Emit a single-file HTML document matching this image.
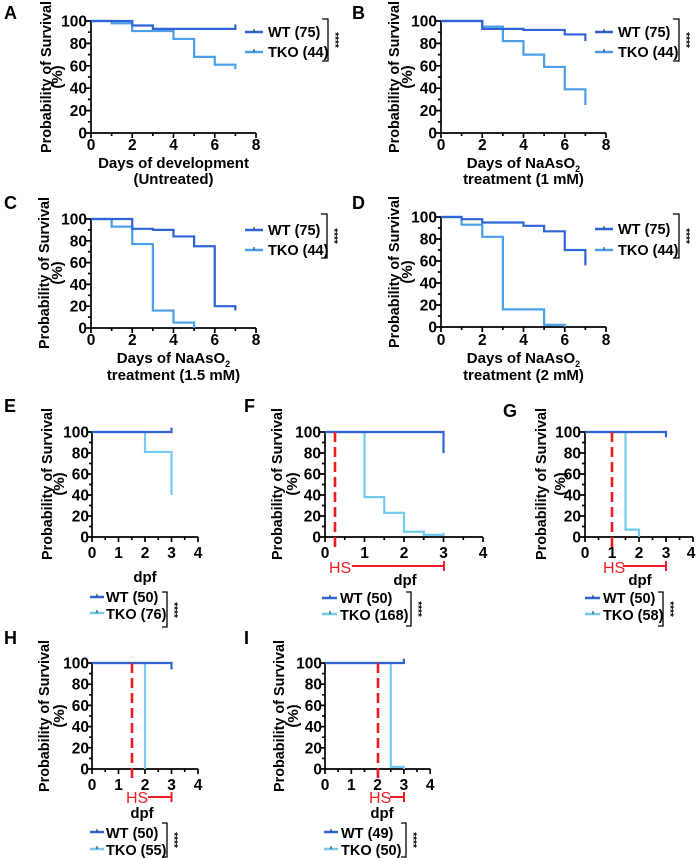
<!DOCTYPE html>
<html><head><meta charset="utf-8"><style>
html,body{margin:0;padding:0;background:#fff;}
svg{display:block;font-family:"Liberation Sans",Arial,sans-serif;font-weight:bold;}
.ax{fill:none;stroke:#000;stroke-width:1.7;}
.wt{fill:none;stroke:#2f64d6;stroke-width:2.2;}
.tk{fill:none;stroke:#4a9fe8;stroke-width:2.2;}
.tc{fill:none;stroke:#74c9ee;stroke-width:2.2;}
.rd{fill:none;stroke:#ee1c24;stroke-width:2.6;stroke-dasharray:10,5;}
.hs{fill:none;stroke:#ee1c24;stroke-width:2;}
.ty{font-size:15.5px;text-anchor:end;}
.tx{font-size:15.5px;text-anchor:middle;}
.tt{font-size:15px;text-anchor:middle;}
.pl{font-size:18px;}
.lg{font-size:14.5px;}
.st{font-size:10px;}
.br{fill:none;stroke:#000;stroke-width:1.3;}
</style></head><body>
<svg width="696" height="858" viewBox="0 0 696 858">
<text class="pl" x="4" y="19">A</text>
<text class="pl" x="352" y="19">B</text>
<text class="pl" x="4" y="209">C</text>
<text class="pl" x="352" y="209">D</text>
<text class="pl" x="4" y="412">E</text>
<text class="pl" x="244" y="412">F</text>
<text class="pl" x="503" y="417">G</text>
<text class="pl" x="4" y="644">H</text>
<text class="pl" x="244" y="644">I</text>

<!-- A -->
<g transform="translate(91,133) scale(20.625,-1.12)">
<path class="ax" vector-effect="non-scaling-stroke" d="M0,100V0H8 M0,0v-4.5 M2,0v-4.5 M4,0v-4.5 M6,0v-4.5 M8,0v-4.5 M1,0v-2.7 M3,0v-2.7 M5,0v-2.7 M7,0v-2.7 M0,0h-.24 M0,20h-.24 M0,40h-.24 M0,60h-.24 M0,80h-.24 M0,100h-.24 M0,10h-.15 M0,30h-.15 M0,50h-.15 M0,70h-.15 M0,90h-.15"/>
<path class="tk" vector-effect="non-scaling-stroke" d="M0,100H1V98H2V91H4V84H5V68H6V61H7V57"/>
<path class="wt" vector-effect="non-scaling-stroke" d="M0,100H2V96H3V93H7V97"/>
</g>
<g class="ty"><text x="87" y="138.5">0</text><text x="87" y="116">20</text><text x="87" y="93.7">40</text><text x="87" y="71.3">60</text><text x="87" y="49">80</text><text x="87" y="26.5">100</text></g>
<g class="tx"><text x="91" y="150">0</text><text x="132.25" y="150">2</text><text x="173.5" y="150">4</text><text x="214.75" y="150">6</text><text x="256" y="150">8</text></g>
<text class="tt" x="173.5" y="168">Days of development</text>
<text class="tt" x="173.5" y="184">(Untreated)</text>
<g transform="translate(0,77) rotate(-90)"><text class="tt" x="0" y="51" textLength="152" lengthAdjust="spacingAndGlyphs">Probability of Survival</text><text class="tt" x="0" y="62">(%)</text></g>
<path d="M245,32H263" stroke="#2f64d6" stroke-width="2.5"/>
<path d="M245,52H263" stroke="#4a9fe8" stroke-width="2.5"/>
<path d="M254,29V32M254,49V52" stroke="#222" stroke-width="1"/>
<text class="lg" x="268" y="37">WT (75)</text>
<text class="lg" x="268" y="57">TKO (44)</text>
<path class="br" d="M322,19H328V61H322"/>
<text class="st" transform="translate(332,40) rotate(90)" text-anchor="middle">****</text>

<!-- B -->
<g transform="translate(441,133) scale(20.625,-1.12)">
<path class="ax" vector-effect="non-scaling-stroke" d="M0,100V0H8 M0,0v-4.5 M2,0v-4.5 M4,0v-4.5 M6,0v-4.5 M8,0v-4.5 M1,0v-2.7 M3,0v-2.7 M5,0v-2.7 M7,0v-2.7 M0,0h-.24 M0,20h-.24 M0,40h-.24 M0,60h-.24 M0,80h-.24 M0,100h-.24 M0,10h-.15 M0,30h-.15 M0,50h-.15 M0,70h-.15 M0,90h-.15"/>
<path class="tk" vector-effect="non-scaling-stroke" d="M0,100H2V95H3V82H4V70H5V59H6V39H7V25"/>
<path class="wt" vector-effect="non-scaling-stroke" d="M0,100H2V93H4V92H6V88H7V82"/>
</g>
<g class="ty"><text x="437" y="138.5">0</text><text x="437" y="116">20</text><text x="437" y="93.7">40</text><text x="437" y="71.3">60</text><text x="437" y="49">80</text><text x="437" y="26.5">100</text></g>
<g class="tx"><text x="441" y="150">0</text><text x="482.25" y="150">2</text><text x="523.5" y="150">4</text><text x="564.75" y="150">6</text><text x="606" y="150">8</text></g>
<text class="tt" x="523.5" y="168">Days of NaAsO<tspan font-size="9" dy="4">2</tspan></text>
<text class="tt" x="523.5" y="184">treatment (1 mM)</text>
<g transform="translate(0,77) rotate(-90)"><text class="tt" x="0" y="399" textLength="152" lengthAdjust="spacingAndGlyphs">Probability of Survival</text><text class="tt" x="0" y="412">(%)</text></g>
<path d="M595,32H613" stroke="#2f64d6" stroke-width="2.5"/>
<path d="M595,52H613" stroke="#4a9fe8" stroke-width="2.5"/>
<path d="M604,29V32M604,49V52" stroke="#222" stroke-width="1"/>
<text class="lg" x="618" y="37">WT (75)</text>
<text class="lg" x="618" y="57">TKO (44)</text>
<path class="br" d="M673,19H679V61H673"/>
<text class="st" transform="translate(683,40) rotate(90)" text-anchor="middle">****</text>

<!-- C -->
<g transform="translate(91,328) scale(20.625,-1.09)">
<path class="ax" vector-effect="non-scaling-stroke" d="M0,100V0H8 M0,0v-4.6 M2,0v-4.6 M4,0v-4.6 M6,0v-4.6 M8,0v-4.6 M1,0v-2.8 M3,0v-2.8 M5,0v-2.8 M7,0v-2.8 M0,0h-.24 M0,20h-.24 M0,40h-.24 M0,60h-.24 M0,80h-.24 M0,100h-.24 M0,10h-.15 M0,30h-.15 M0,50h-.15 M0,70h-.15 M0,90h-.15"/>
<path class="tk" vector-effect="non-scaling-stroke" d="M0,100H1V93H2V77H3V16H4V5H5V0"/>
<path class="wt" vector-effect="non-scaling-stroke" d="M0,100H2V91H3V90H4V84H5V75H6V20H7V16"/>
</g>
<g class="ty"><text x="87" y="333.5">0</text><text x="87" y="311.7">20</text><text x="87" y="289.9">40</text><text x="87" y="268.1">60</text><text x="87" y="246.3">80</text><text x="87" y="224.5">100</text></g>
<g class="tx"><text x="91" y="345">0</text><text x="132.25" y="345">2</text><text x="173.5" y="345">4</text><text x="214.75" y="345">6</text><text x="256" y="345">8</text></g>
<text class="tt" x="173.5" y="363">Days of NaAsO<tspan font-size="9" dy="4">2</tspan></text>
<text class="tt" x="173.5" y="380">treatment (1.5 mM)</text>
<g transform="translate(0,273) rotate(-90)"><text class="tt" x="0" y="49" textLength="152" lengthAdjust="spacingAndGlyphs">Probability of Survival</text><text class="tt" x="0" y="62">(%)</text></g>
<path d="M245,230H263" stroke="#2f64d6" stroke-width="2.5"/>
<path d="M245,250H263" stroke="#4a9fe8" stroke-width="2.5"/>
<path d="M254,227V230M254,247V250" stroke="#222" stroke-width="1"/>
<text class="lg" x="268" y="235">WT (75)</text>
<text class="lg" x="268" y="255">TKO (44)</text>
<path class="br" d="M321,214H327V258H321"/>
<text class="st" transform="translate(331,236) rotate(90)" text-anchor="middle">****</text>

<!-- D -->
<g transform="translate(441,327) scale(20.625,-1.1)">
<path class="ax" vector-effect="non-scaling-stroke" d="M0,100V0H8 M0,0v-4.5 M2,0v-4.5 M4,0v-4.5 M6,0v-4.5 M8,0v-4.5 M1,0v-2.7 M3,0v-2.7 M5,0v-2.7 M7,0v-2.7 M0,0h-.24 M0,20h-.24 M0,40h-.24 M0,60h-.24 M0,80h-.24 M0,100h-.24 M0,10h-.15 M0,30h-.15 M0,50h-.15 M0,70h-.15 M0,90h-.15"/>
<path class="tk" vector-effect="non-scaling-stroke" d="M0,100H1V93H2V82H3V16H5V2H6V0"/>
<path class="wt" vector-effect="non-scaling-stroke" d="M0,100H1V98H2V95H4V92H5V87H6V70H7V56"/>
</g>
<g class="ty"><text x="437" y="332.5">0</text><text x="437" y="310.5">20</text><text x="437" y="288.5">40</text><text x="437" y="266.5">60</text><text x="437" y="244.5">80</text><text x="437" y="222.5">100</text></g>
<g class="tx"><text x="441" y="345">0</text><text x="482.25" y="345">2</text><text x="523.5" y="345">4</text><text x="564.75" y="345">6</text><text x="606" y="345">8</text></g>
<text class="tt" x="523.5" y="363">Days of NaAsO<tspan font-size="9" dy="4">2</tspan></text>
<text class="tt" x="523.5" y="380">treatment (2 mM)</text>
<g transform="translate(0,272) rotate(-90)"><text class="tt" x="0" y="399" textLength="152" lengthAdjust="spacingAndGlyphs">Probability of Survival</text><text class="tt" x="0" y="412">(%)</text></g>
<path d="M595,229H613" stroke="#2f64d6" stroke-width="2.5"/>
<path d="M595,250H613" stroke="#4a9fe8" stroke-width="2.5"/>
<path d="M604,226V229M604,247V250" stroke="#222" stroke-width="1"/>
<text class="lg" x="618" y="234">WT (75)</text>
<text class="lg" x="618" y="255">TKO (44)</text>
<path class="br" d="M673,214H679V258H673"/>
<text class="st" transform="translate(683,236) rotate(90)" text-anchor="middle">****</text>

<!-- E -->
<g transform="translate(92,537) scale(26.5,-1.05)">
<path class="ax" vector-effect="non-scaling-stroke" d="M0,100V0H4 M0,0v-4.8 M1,0v-4.8 M2,0v-4.8 M3,0v-4.8 M4,0v-4.8 M.5,0v-2.9 M1.5,0v-2.9 M2.5,0v-2.9 M3.5,0v-2.9 M0,0h-.19 M0,20h-.19 M0,40h-.19 M0,60h-.19 M0,80h-.19 M0,100h-.19 M0,10h-.11 M0,30h-.11 M0,50h-.11 M0,70h-.11 M0,90h-.11"/>
<path class="tc" vector-effect="non-scaling-stroke" d="M0,100H2V81H3V40"/>
<path class="wt" vector-effect="non-scaling-stroke" d="M0,100H3V104"/>
</g>
<g class="ty"><text x="89" y="542.5">0</text><text x="89" y="521.5">20</text><text x="89" y="500.5">40</text><text x="89" y="479.5">60</text><text x="89" y="458.5">80</text><text x="89" y="437.5">100</text></g>
<g class="tx"><text x="92" y="558">0</text><text x="118.5" y="558">1</text><text x="145" y="558">2</text><text x="171.5" y="558">3</text><text x="198" y="558">4</text></g>
<text class="tt" x="145" y="582">dpf</text>
<g transform="translate(0,484) rotate(-90)"><text class="tt" x="0" y="52" textLength="152" lengthAdjust="spacingAndGlyphs">Probability of Survival</text><text class="tt" x="0" y="64">(%)</text></g>
<path d="M90,597H104" stroke="#2f64d6" stroke-width="2.5"/>
<path d="M90,613H104" stroke="#74c9ee" stroke-width="2.5"/>
<path d="M97,594V597M97,610V613" stroke="#222" stroke-width="1"/>
<text class="lg" x="106" y="602">WT (50)</text>
<text class="lg" x="106" y="619">TKO (76)</text>
<path class="br" d="M162,592H167V627H162"/>
<text class="st" transform="translate(171,610) rotate(90)" text-anchor="middle">****</text>

<!-- F -->
<g transform="translate(325,537) scale(39.5,-1.05)">
<path class="ax" vector-effect="non-scaling-stroke" d="M0,100V0H4 M0,0v-4.8 M1,0v-4.8 M2,0v-4.8 M3,0v-4.8 M4,0v-4.8 M.5,0v-2.9 M1.5,0v-2.9 M2.5,0v-2.9 M3.5,0v-2.9 M0,0h-.127 M0,20h-.127 M0,40h-.127 M0,60h-.127 M0,80h-.127 M0,100h-.127 M0,10h-.076 M0,30h-.076 M0,50h-.076 M0,70h-.076 M0,90h-.076"/>
<path class="tc" vector-effect="non-scaling-stroke" d="M0,100H1V38H1.5V23H2V5H2.5V2H3V4"/>
<path class="wt" vector-effect="non-scaling-stroke" d="M0,100H3V80"/>
</g>
<path class="rd" d="M335,432V548"/>
<g class="ty"><text x="321" y="542.5">0</text><text x="321" y="521.5">20</text><text x="321" y="500.5">40</text><text x="321" y="479.5">60</text><text x="321" y="458.5">80</text><text x="321" y="437.5">100</text></g>
<g class="tx"><text x="325" y="558">0</text><text x="364.5" y="558">1</text><text x="404" y="558">2</text><text x="443.5" y="558">3</text><text x="483" y="558">4</text></g>
<text x="329" y="573" font-size="16" font-weight="normal" fill="#ee1c24">HS</text>
<path class="hs" d="M352,566H444M444,561V571"/>
<text class="tt" x="405" y="585">dpf</text>
<g transform="translate(0,484) rotate(-90)"><text class="tt" x="0" y="282" textLength="152" lengthAdjust="spacingAndGlyphs">Probability of Survival</text><text class="tt" x="0" y="297">(%)</text></g>
<path d="M322,598H337" stroke="#2f64d6" stroke-width="2.5"/>
<path d="M322,614H337" stroke="#74c9ee" stroke-width="2.5"/>
<path d="M330,595V598M330,611V614" stroke="#222" stroke-width="1"/>
<text class="lg" x="340" y="603">WT (50)</text>
<text class="lg" x="340" y="620">TKO (168)</text>
<path class="br" d="M406,592H411V626H406"/>
<text class="st" transform="translate(415,609) rotate(90)" text-anchor="middle">****</text>

<!-- G -->
<g transform="translate(585,537) scale(27,-1.05)">
<path class="ax" vector-effect="non-scaling-stroke" d="M0,100V0H4 M0,0v-4.8 M1,0v-4.8 M2,0v-4.8 M3,0v-4.8 M4,0v-4.8 M.5,0v-2.9 M1.5,0v-2.9 M2.5,0v-2.9 M3.5,0v-2.9 M0,0h-.185 M0,20h-.185 M0,40h-.185 M0,60h-.185 M0,80h-.185 M0,100h-.185 M0,10h-.11 M0,30h-.11 M0,50h-.11 M0,70h-.11 M0,90h-.11"/>
<path class="tc" vector-effect="non-scaling-stroke" d="M0,100H1.5V7H2V0"/>
<path class="wt" vector-effect="non-scaling-stroke" d="M0,100H3V95"/>
</g>
<path class="rd" d="M612,432V548"/>
<g class="ty"><text x="581" y="542.5">0</text><text x="581" y="521.5">20</text><text x="581" y="500.5">40</text><text x="581" y="479.5">60</text><text x="581" y="458.5">80</text><text x="581" y="437.5">100</text></g>
<g class="tx"><text x="585" y="558">0</text><text x="612" y="558">1</text><text x="639" y="558">2</text><text x="666" y="558">3</text><text x="691" y="558">4</text></g>
<text x="603" y="573" font-size="16" font-weight="normal" fill="#ee1c24">HS</text>
<path class="hs" d="M623,566H666M666,561V571"/>
<text class="tt" x="640" y="585">dpf</text>
<g transform="translate(0,484) rotate(-90)"><text class="tt" x="0" y="546" textLength="152" lengthAdjust="spacingAndGlyphs">Probability of Survival</text><text class="tt" x="0" y="565">(%)</text></g>
<path d="M585,598H600" stroke="#2f64d6" stroke-width="2.5"/>
<path d="M585,614H600" stroke="#74c9ee" stroke-width="2.5"/>
<path d="M593,595V598M593,611V614" stroke="#222" stroke-width="1"/>
<text class="lg" x="603" y="603">WT (50)</text>
<text class="lg" x="603" y="620">TKO (58)</text>
<path class="br" d="M658,592H663V626H658"/>
<text class="st" transform="translate(667,609) rotate(90)" text-anchor="middle">****</text>

<!-- H -->
<g transform="translate(92,769) scale(26.5,-1.06)">
<path class="ax" vector-effect="non-scaling-stroke" d="M0,100V0H4 M0,0v-4.7 M1,0v-4.7 M2,0v-4.7 M3,0v-4.7 M4,0v-4.7 M.5,0v-2.8 M1.5,0v-2.8 M2.5,0v-2.8 M3.5,0v-2.8 M0,0h-.19 M0,20h-.19 M0,40h-.19 M0,60h-.19 M0,80h-.19 M0,100h-.19 M0,10h-.11 M0,30h-.11 M0,50h-.11 M0,70h-.11 M0,90h-.11"/>
<path class="tc" vector-effect="non-scaling-stroke" d="M0,100H2V0"/>
<path class="wt" vector-effect="non-scaling-stroke" d="M0,100H3V94"/>
</g>
<path class="rd" d="M132,663V780"/>
<g class="ty"><text x="89" y="774.5">0</text><text x="89" y="753.3">20</text><text x="89" y="732.1">40</text><text x="89" y="710.9">60</text><text x="89" y="689.7">80</text><text x="89" y="668.5">100</text></g>
<g class="tx"><text x="92" y="790">0</text><text x="118.5" y="790">1</text><text x="145" y="790">2</text><text x="171.5" y="790">3</text><text x="198" y="790">4</text></g>
<text x="126" y="803" font-size="16" font-weight="normal" fill="#ee1c24">HS</text>
<path class="hs" d="M148,797H171.5M171.5,792V802"/>
<text class="tt" x="142" y="818">dpf</text>
<g transform="translate(0,716) rotate(-90)"><text class="tt" x="0" y="49" textLength="152" lengthAdjust="spacingAndGlyphs">Probability of Survival</text><text class="tt" x="0" y="64">(%)</text></g>
<path d="M90,832H104" stroke="#2f64d6" stroke-width="2.5"/>
<path d="M90,849H104" stroke="#74c9ee" stroke-width="2.5"/>
<path d="M97,829V832M97,846V849" stroke="#222" stroke-width="1"/>
<text class="lg" x="106" y="838">WT (50)</text>
<text class="lg" x="106" y="855">TKO (55)</text>
<path class="br" d="M162,823H167V857H162"/>
<text class="st" transform="translate(171,840) rotate(90)" text-anchor="middle">****</text>

<!-- I -->
<g transform="translate(325,769) scale(26.3,-1.06)">
<path class="ax" vector-effect="non-scaling-stroke" d="M0,100V0H4 M0,0v-4.7 M1,0v-4.7 M2,0v-4.7 M3,0v-4.7 M4,0v-4.7 M.5,0v-2.8 M1.5,0v-2.8 M2.5,0v-2.8 M3.5,0v-2.8 M0,0h-.19 M0,20h-.19 M0,40h-.19 M0,60h-.19 M0,80h-.19 M0,100h-.19 M0,10h-.11 M0,30h-.11 M0,50h-.11 M0,70h-.11 M0,90h-.11"/>
<path class="tc" vector-effect="non-scaling-stroke" d="M0,100H2.5V2H3V0"/>
<path class="wt" vector-effect="non-scaling-stroke" d="M0,100H3V104"/>
</g>
<path class="rd" d="M378,663V780"/>
<g class="ty"><text x="322" y="774.5">0</text><text x="322" y="753.3">20</text><text x="322" y="732.1">40</text><text x="322" y="710.9">60</text><text x="322" y="689.7">80</text><text x="322" y="668.5">100</text></g>
<g class="tx"><text x="325" y="790">0</text><text x="351.3" y="790">1</text><text x="377.6" y="790">2</text><text x="403.9" y="790">3</text><text x="430.2" y="790">4</text></g>
<text x="369" y="803" font-size="16" font-weight="normal" fill="#ee1c24">HS</text>
<path class="hs" d="M390,797H404M404,792V802"/>
<text class="tt" x="382" y="818">dpf</text>
<g transform="translate(0,716) rotate(-90)"><text class="tt" x="0" y="284" textLength="152" lengthAdjust="spacingAndGlyphs">Probability of Survival</text><text class="tt" x="0" y="298">(%)</text></g>
<path d="M324,832H338" stroke="#2f64d6" stroke-width="2.5"/>
<path d="M324,849H338" stroke="#74c9ee" stroke-width="2.5"/>
<path d="M331,829V832M331,846V849" stroke="#222" stroke-width="1"/>
<text class="lg" x="341" y="838">WT (49)</text>
<text class="lg" x="341" y="855">TKO (50)</text>
<path class="br" d="M401,823H406V857H401"/>
<text class="st" transform="translate(410,840) rotate(90)" text-anchor="middle">****</text>
</svg>
</body></html>
